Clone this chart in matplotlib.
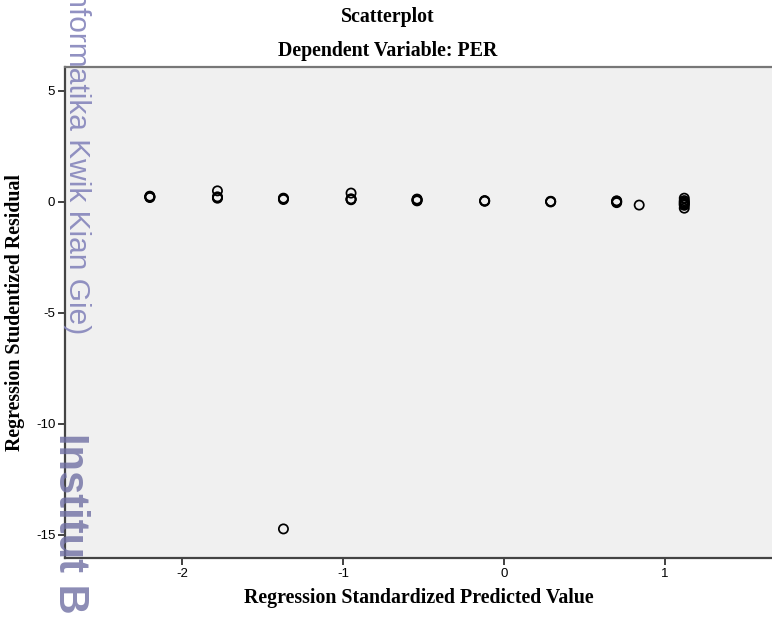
import matplotlib
matplotlib.use("Agg")
import matplotlib.pyplot as plt

# predicted values (standardized) and studentized residuals
pred = [-2.20, -2.20, -2.20, -2.20,
        -1.78, -1.78, -1.78, -1.78,
        -1.37, -1.37, -1.37, -1.37,
        -0.95, -0.95, -0.95, -0.95,
        -0.54, -0.54, -0.54, -0.54,
        -0.12, -0.12, -0.12,
        0.29, 0.29, 0.29,
        0.70, 0.70, 0.70, 0.70,
        0.84,
        1.12, 1.12, 1.12, 1.12, 1.12, 1.12, 1.12]
resid = [0.26, 0.22, 0.20, 0.24,
         0.20, 0.17, 0.23, 0.50,
         0.15, 0.11, 0.17, -14.73,
         0.14, 0.10, 0.12, 0.40,
         0.11, 0.07, 0.05, 0.13,
         0.06, 0.03, 0.05,
         0.03, 0.00, 0.02,
         0.03, -0.03, 0.00, 0.05,
         -0.14,
         0.17, 0.06, -0.05, -0.15, -0.10, 0.00, -0.28]

x_ticks = [-2, -1, 0, 1]
y_ticks = [5, 0, -5, -10, -15]

serif = "Liberation Serif"
sans = "Liberation Sans"

fig = plt.figure(figsize=(7.72, 6.17), dpi=100)
ax = fig.add_axes([65 / 772, 1 - 558 / 617, 707 / 772, (558 - 67) / 617])
ax.set_facecolor("#f0f0f0")

ax.scatter(pred, resid, s=44, facecolors="none", edgecolors="black", linewidths=1.25, zorder=3)

ax.set_xlim(-2.727, 1.665)
ax.set_ylim(-16.04, 6.08)
ax.set_xticks(x_ticks)
ax.set_yticks(y_ticks)
ax.set_xticklabels([str(v) for v in x_ticks], fontfamily=sans, fontsize=9.5)
ax.set_yticklabels([str(v) for v in y_ticks], fontfamily=sans, fontsize=9.5)
ax.tick_params(direction="out", length=5, width=1.3, color="#333333", pad=2)

for side in ["left", "bottom"]:
    ax.spines[side].set_color("#444444")
    ax.spines[side].set_linewidth(1.6)
ax.spines["top"].set_color("#777777")
ax.spines["top"].set_linewidth(1.6)
ax.spines["right"].set_visible(False)

ax.set_xlabel("Regression Standardized Predicted Value", fontfamily=serif,
              fontweight="bold", fontsize=14.3, labelpad=6)
ax.set_ylabel("Regression Studentized Residual", fontfamily=serif,
              fontweight="bold", fontsize=14.3, labelpad=8)

fig.text(388 / 772, 1 - 17 / 617, "Scatterplot", fontfamily=serif, fontweight="bold",
         fontsize=14.3, ha="center", va="center")
fig.text(388 / 772, 1 - 51 / 617, "Dependent Variable: PER", fontfamily=serif,
         fontweight="bold", fontsize=14.3, ha="center", va="center")

# watermark from the source document
fig.text(77 / 772, 1 - 334 / 617, "Informatika Kwik Kian Gie)", fontfamily=sans,
         fontsize=21.5, color="#8585bb", alpha=0.9, rotation=270,
         ha="center", va="bottom", zorder=10)
fig.text(70 / 772, 1 - 433 / 617, "Institut Bisnis", fontfamily=sans, fontweight="bold",
         fontsize=30, color="#6f6fa3", alpha=0.8, rotation=270,
         ha="center", va="top", zorder=10)

fig.savefig("out.png", dpi=100)
